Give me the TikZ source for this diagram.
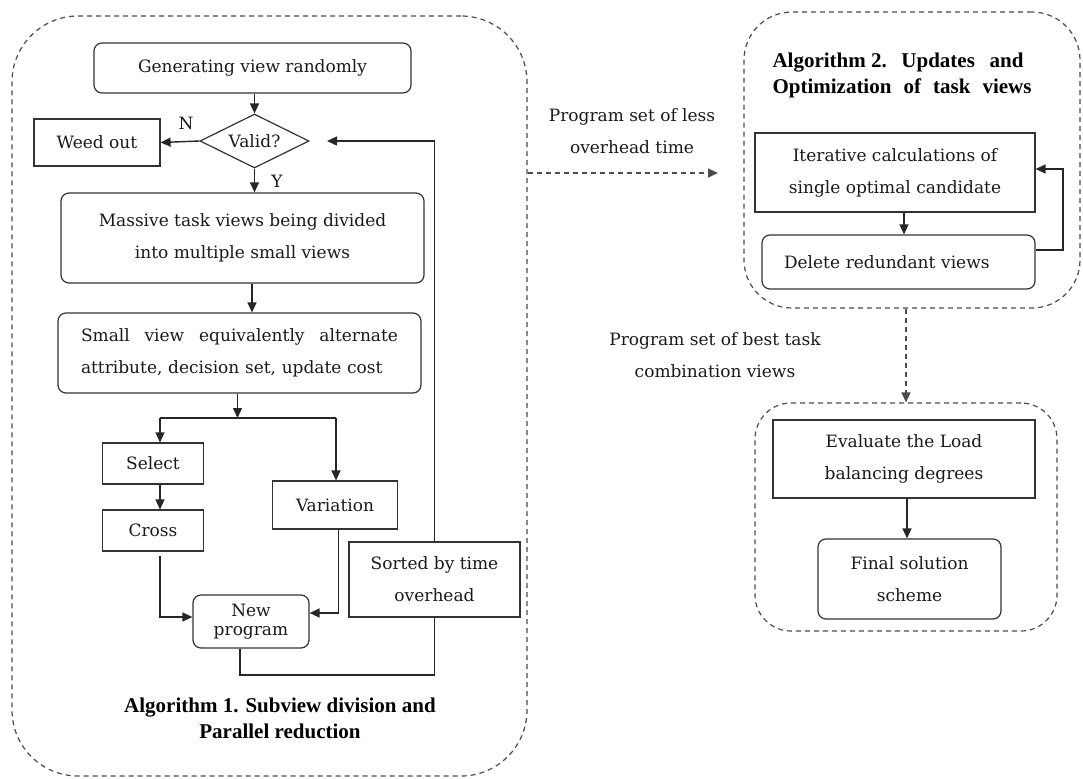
\documentclass[tikz,border=0pt]{standalone}
\usepackage{fontspec}
\setmainfont{DejaVu Serif}
\newfontfamily\titlefont{Liberation Serif}
\usetikzlibrary{arrows.meta,shapes.geometric,calc}
\begin{document}
\begin{tikzpicture}[x=0.5pt,y=-0.5pt,
  font=\fontsize{8.5}{16}\selectfont,
  box/.style={draw=black!80, line width=0.6pt, inner sep=0pt, align=center, text=black!90},
  rbox/.style={box, rounded corners=4pt},
  cont/.style={draw=black!70, dash pattern=on 2.5pt off 2pt, line width=0.6pt},
  arr/.style={draw=black!85, line width=0.7pt, -{Triangle[length=5pt,width=4.5pt]}},
  ln/.style={draw=black!85, line width=0.7pt},
  darr/.style={cont, -{Triangle[length=5pt,width=4.5pt]}},
  lbl/.style={align=center, text=black!90, inner sep=0pt},
  ttl/.style={font=\titlefont\bfseries\fontsize{10.5}{13}\selectfont, text=black, inner sep=0pt},
]
\useasboundingbox (0,0) rectangle (1083,778);

% containers
\node[cont, rounded corners=33pt, minimum width=257.5pt, minimum height=380pt] (cA) at (269.5,396) {};
\node[cont, rounded corners=24pt, minimum width=168pt, minimum height=148pt] (cB) at (912,160) {};
\node[cont, rounded corners=18pt, minimum width=151pt, minimum height=114pt] (cC) at (906,517) {};

% algorithm 1
\node[rbox, minimum width=158.5pt, minimum height=25pt] (gen) at (252.5,68) {Generating view randomly};
\node[draw=black!80, line width=0.6pt, diamond, aspect=2, minimum width=54.5pt, minimum height=27pt, inner sep=0pt, text=black!90] (valid) at (254.5,141) {Valid?};
\node[box, minimum width=63pt, minimum height=23.5pt] (weed) at (97,142.5) {Weed out};
\node[rbox, minimum width=181.5pt, minimum height=45pt] (mass) at (242.5,238) {Massive task views being divided\\into multiple small views};
\node[rbox, minimum width=181.5pt, minimum height=40pt, text width=158.5pt, align=left] (small) at (239.5,353) {\hbox to 158.5pt{Small\hfil view\hfil equivalently\hfil alternate}\\attribute, decision set, update cost};
\node[box, minimum width=50.25pt, minimum height=20.5pt] (sel) at (153,463.5) {Select};
\node[box, minimum width=50.25pt, minimum height=20.5pt] (cross) at (153,530.5) {Cross};
\node[box, minimum width=62.5pt, minimum height=24pt] (var) at (335,505) {Variation};
\node[box, minimum width=85.5pt, minimum height=37.5pt] (sort) at (434.5,579.5) {Sorted by time\\overhead};
\node[rbox, minimum width=58pt, minimum height=26.5pt, font=\fontsize{8.5}{9.5}\selectfont] (newp) at (251,621.5) {New\\program};
\node[ttl, align=center] (t1) at (280,718) {Algorithm 1. Subview division and\\Parallel reduction};
\node[lbl] (nlab) at (186,123) {N};
\node[lbl] (ylab) at (277,181) {Y};

% algorithm 2
\node[ttl, align=left] (t2) at (902,75) {\hbox to 125.5pt{Algorithm 2.\hfil Updates\hfil and}\\\hbox to 129.5pt{Optimization\hfil of\hfil task\hfil views}};
\node[box, minimum width=140pt, minimum height=39.5pt] (iter) at (895,172.5) {Iterative calculations of\\single optimal candidate};
\node[rbox, minimum width=136.5pt, minimum height=27pt, text width=114.5pt, align=left, inner xsep=11pt] (del) at (898.5,262) {Delete redundant views};
\node[box, minimum width=131pt, minimum height=39pt] (eval) at (904,459) {Evaluate the Load\\balancing degrees};
\node[rbox, minimum width=91.5pt, minimum height=40pt] (fin) at (909.5,579) {Final solution\\scheme};

% labels between blocks
\node[lbl] (l1) at (632,131) {Program set of less\\overhead time};
\node[lbl] (l2) at (715,355) {Program set of best task\\combination views};

% helper coordinates
\coordinate (x252) at (252,0);
\coordinate (split) at (237.5,418);
\coordinate (sl) at (160,418);
\coordinate (sr) at (336,418);
\coordinate (k1) at (160,617);
\coordinate (k2) at (338.5,613);
\coordinate (k3) at (240,675);
\coordinate (fb) at (327,141);
\coordinate (x904) at (904,0);
\coordinate (x907) at (907,0);
\coordinate (r1) at (1063,250);
\coordinate (r2) at (1063,169);
\coordinate (a1) at (718,173);

% connectors algorithm 1
\draw[arr] (gen.south -| valid.north) -- (valid.north);
\draw[arr] (valid.west) -- (weed.east);
\draw[arr] (valid.south) -- (mass.north -| valid.south);
\draw[arr] (mass.south -| x252) -- (small.north -| x252);
\draw[arr] (small.south -| split) -- (split);
\draw[ln] (sl) -- (sr);
\draw[arr] (sl) -- (sel.north -| sl);
\draw[arr] (sr) -- (var.north -| sr);
\draw[arr] (sel.south -| sl) -- (cross.north -| sl);
\draw[arr] ($(cross.south -| sl)+(0,4)$) -- (k1) -- (newp.west |- k1);
\draw[arr] (var.south -| k2) -- (k2) -- (newp.east |- k2);
\draw[ln] (newp.south -| k3) -- (k3) -| (sort.south);
\draw[arr] (sort.north) |- (fb);

% connectors algorithm 2 and between blocks
\draw[arr] (iter.south -| x904) -- (del.north -| x904);
\draw[arr] (del.east |- r1) -- (r1) -- (r2) -- (iter.east |- r2);
\draw[arr] (eval.south -| x907) -- (fin.north -| x907);
\draw[darr] (cA.east |- a1) -- (a1);
\draw[darr] (cB.south -| cC.north) -- (cC.north);
\end{tikzpicture}
\end{document}
